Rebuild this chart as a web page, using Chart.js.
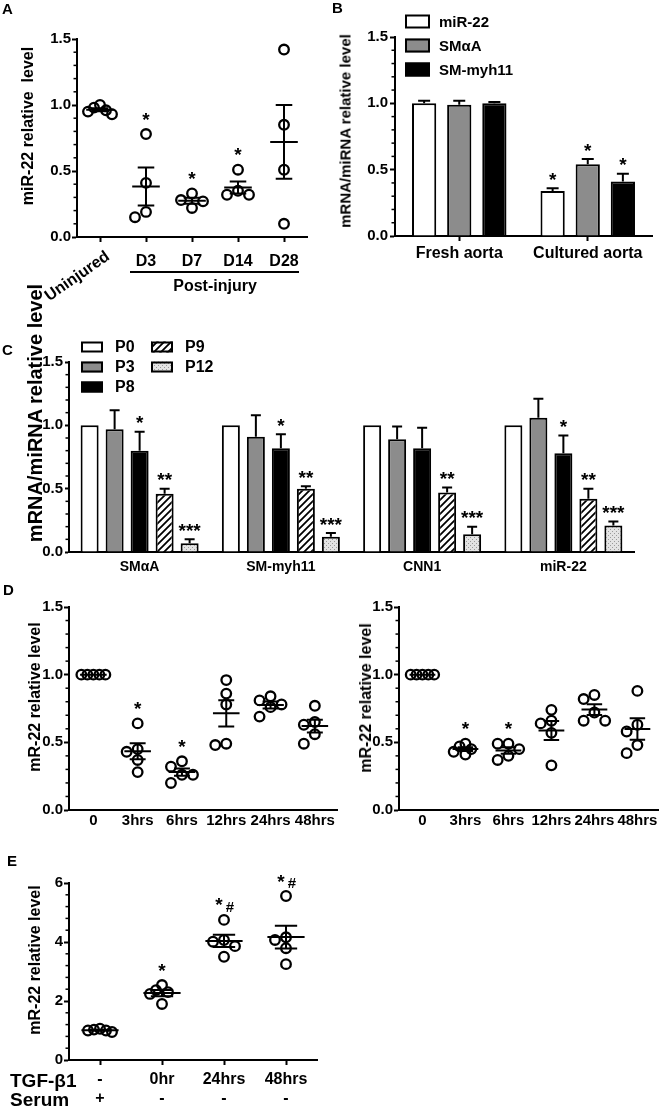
<!DOCTYPE html>
<html>
<head>
<meta charset="utf-8">
<script src="https://cdn.jsdelivr.net/npm/chart.js@4.4.1/dist/chart.umd.min.js"></script>
<style>
  body { margin: 0; width: 666px; height: 1106px; overflow: hidden; position: relative; background: #fff;
         font-family: "Liberation Sans", Arial, sans-serif; font-weight: bold; color: #000; }
  canvas { position: absolute; }
  .pl { position: absolute; font-size: 15px; line-height: 1; }
  .yt { position: absolute; white-space: nowrap; line-height: 1; transform: translate(-50%, -50%) rotate(-90deg); }
  .tx { position: absolute; white-space: nowrap; line-height: 1; transform: translateY(-50%); }
</style>
</head>
<body>
<canvas id="cA" width="333" height="310" style="left:0;top:0"></canvas>
<canvas id="cB" width="333" height="270" style="left:333px;top:0"></canvas>
<canvas id="cC" width="666" height="310" style="left:0;top:275px"></canvas>
<canvas id="cD1" width="345" height="250" style="left:0;top:585px"></canvas>
<canvas id="cD2" width="333" height="250" style="left:333px;top:585px"></canvas>
<canvas id="cE" width="340" height="266" style="left:0;top:840px"></canvas>

<div class="pl" style="left:2px;top:1px">A</div>
<div class="pl" style="left:332px;top:0">B</div>
<div class="pl" style="left:2px;top:342px">C</div>
<div class="pl" style="left:3px;top:582px">D</div>
<div class="pl" style="left:7px;top:853px">E</div>

<div class="yt" style="left:28px;top:126px;font-size:16px">miR-22 relative&nbsp; level</div>
<div class="yt" style="left:345px;top:131px;font-size:15px">mRNA/miRNA relative level</div>
<div class="yt" style="left:35px;top:413px;font-size:20px">mRNA/miRNA relative level</div>
<div class="yt" style="left:35px;top:697px;font-size:16px">mR-22 relative level</div>
<div class="yt" style="left:366px;top:698px;font-size:16px">mR-22 relative level</div>
<div class="yt" style="left:35px;top:960px;font-size:16px">mR-22 relative level</div>

<div class="tx" style="left:10px;top:1080px;font-size:19px">TGF-β1</div>
<div class="tx" style="left:10px;top:1099px;font-size:19px">Serum</div>

<script>
// ---- panel A : miR-22 after injury ----
const aCats = ['Uninjured', 'D3', 'D7', 'D14', 'D28'];
const aUninjured = [0.98, 0.93, 0.96, 1.00, 0.95];
const aD3 = [0.78, 0.41, 0.15, 0.19];
const aD7 = [0.33, 0.28, 0.27, 0.22];
const aD14 = [0.51, 0.35, 0.32, 0.32];
const aD28 = [1.42, 0.85, 0.51, 0.10];
const aStars = ['', '*', '*', '*', ''];

// ---- panel B : fresh vs cultured aorta ----
const bCats = ['Fresh aorta', 'Cultured aorta'];
const bLabels = ['miR-22', 'SMαA', 'SM-myh11'];
const bMiR22 = [1.00, 0.34];
const bMiR22Sem = [0.02, 0.02];
const bSma = [0.99, 0.54];
const bSmaSem = [0.03, 0.04];
const bMyh11 = [1.00, 0.41];
const bMyh11Sem = [0.01, 0.06];
const bStars = ['', '*'];

// ---- panel C : passages ----
const cCats = ['SMαA', 'SM-myh11', 'CNN1', 'miR-22'];
const cLabels = ['P0', 'P3', 'P8', 'P9', 'P12'];
const cP0 = [1.00, 1.00, 1.00, 1.00];
const cP0Sem = [0, 0, 0, 0];
const cP3 = [0.97, 0.91, 0.89, 1.06];
const cP3Sem = [0.15, 0.17, 0.10, 0.15];
const cP8 = [0.80, 0.82, 0.82, 0.78];
const cP8Sem = [0.15, 0.11, 0.16, 0.14];
const cP9 = [0.46, 0.50, 0.47, 0.42];
const cP9Sem = [0.04, 0.02, 0.04, 0.08];
const cP12 = [0.07, 0.12, 0.14, 0.21];
const cP12Sem = [0.03, 0.03, 0.06, 0.03];
const cP8Stars = ['*', '*', '', '*'];
const cP9Stars = ['**', '**', '**', '**'];
const cP12Stars = ['***', '***', '***', '***'];

// ---- panel D : time course ----
const dCats = ['0', '3hrs', '6hrs', '12hrs', '24hrs', '48hrs'];
const d1h0 = [1.00, 1.00, 1.00, 1.00, 1.00];
const d1h3 = [0.64, 0.45, 0.43, 0.37, 0.28];
const d1h6 = [0.36, 0.32, 0.26, 0.26, 0.20];
const d1h12 = [0.96, 0.86, 0.78, 0.49, 0.48];
const d1h24 = [0.84, 0.81, 0.78, 0.76, 0.69];
const d1h48 = [0.77, 0.65, 0.63, 0.56, 0.49];
const d1Stars = ['', '*', '*', '', '', ''];
const d2h0 = [1.00, 1.00, 1.00, 1.00, 1.00];
const d2h3 = [0.49, 0.47, 0.45, 0.43, 0.41];
const d2h6 = [0.49, 0.49, 0.45, 0.40, 0.37];
const d2h12 = [0.74, 0.66, 0.64, 0.57, 0.33];
const d2h24 = [0.85, 0.82, 0.72, 0.66, 0.66];
const d2h48 = [0.88, 0.63, 0.58, 0.48, 0.42];
const d2Stars = ['', '*', '*', '', '', ''];

// ---- panel E : TGF-b1 ----
const eTgf = ['-', '0hr', '24hrs', '48hrs'];
const eSerum = ['+', '-', '-', '-'];
const eSerumPlus = [1.03, 1.06, 0.95, 1.00, 1.00];
const e0hr = [2.54, 2.37, 2.30, 2.24, 1.90];
const e24hrs = [4.75, 4.07, 4.01, 3.86, 3.50];
const e48hrs = [5.56, 4.16, 4.07, 3.79, 3.25];
const eStars = ['', '*', '*#', '*#'];

const FONT = '"Liberation Sans", Arial, sans-serif';
Chart.defaults.font.family = FONT;
Chart.defaults.font.weight = 'bold';
Chart.defaults.color = '#000';
Chart.defaults.animation = false;
Chart.defaults.plugins.legend.display = false;
Chart.defaults.plugins.tooltip.enabled = false;

function drawStars(ctx, s, x, yc) {
  ctx.save();
  ctx.fillStyle = '#000';
  ctx.textAlign = 'center';
  ctx.textBaseline = 'alphabetic';
  ctx.font = `bold 19px ${FONT}`;
  if (s.includes('#')) {
    ctx.fillText(s.replace('#', ''), x - 5, yc + 10.6);
    ctx.font = `bold 15px ${FONT}`;
    ctx.fillText('#', x + 6, yc + 11);
  } else {
    ctx.fillText(s, x, yc + 10.6);
  }
  ctx.restore();
}

function minorTicks(step, major, len) {
  return {
    id: 'minorTicks',
    afterDraw(chart) {
      const y = chart.scales.y, ctx = chart.ctx, x0 = chart.chartArea.left;
      ctx.save();
      ctx.strokeStyle = '#000';
      ctx.lineWidth = 1.5;
      for (let k = 1; k * step < y.max - 1e-9; k++) {
        const v = k * step;
        if (Math.abs(v / major - Math.round(v / major)) < 1e-6) continue;
        const py = y.getPixelForValue(v);
        ctx.beginPath();
        ctx.moveTo(x0, py);
        ctx.lineTo(x0 - len, py);
        ctx.stroke();
      }
      ctx.restore();
    }
  };
}

// spread the dots of one group sideways so they do not overlap (pixels)
function swarm(vals, ppu, d, limit) {
  const order = vals.map((v, i) => i).sort((a, b) => vals[b] - vals[a]);
  const placed = [];
  const off = vals.map(() => 0);
  order.forEach(i => {
    const py = vals[i] * ppu;
    for (let k = 0; k < 20; k++) {
      const cand = k === 0 ? 0 : (k % 2 ? -1 : 1) * Math.ceil(k / 2) * d;
      if (placed.every(p => Math.hypot(p.x - cand, p.y - py) >= d * 0.95)) {
        off[i] = cand;
        placed.push({ x: cand, y: py });
        break;
      }
    }
  });
  const m = Math.max(...off.map(Math.abs));
  const s = m > limit ? limit / m : 1;
  return off.map(o => o * s);
}

function meanSem(groups, stars) {
  return {
    id: 'meanSem',
    afterDatasetsDraw(chart) {
      const { x, y } = chart.scales, ctx = chart.ctx;
      ctx.save();
      ctx.strokeStyle = '#000';
      ctx.lineWidth = 2;
      groups.forEach((vals, i) => {
        const n = vals.length;
        const m = vals.reduce((a, b) => a + b, 0) / n;
        const sd = Math.sqrt(vals.reduce((a, b) => a + (b - m) ** 2, 0) / (n - 1));
        const se = sd / Math.sqrt(n);
        const xc = x.getPixelForValue(i);
        const hw = x.getPixelForValue(i + 0.3) - xc;
        const cw = x.getPixelForValue(i + 0.18) - xc;
        const ym = y.getPixelForValue(m), yh = y.getPixelForValue(m + se), yl = y.getPixelForValue(m - se);
        ctx.beginPath();
        ctx.moveTo(xc - hw, ym); ctx.lineTo(xc + hw, ym);
        ctx.moveTo(xc, yh); ctx.lineTo(xc, yl);
        ctx.moveTo(xc - cw, yh); ctx.lineTo(xc + cw, yh);
        ctx.moveTo(xc - cw, yl); ctx.lineTo(xc + cw, yl);
        ctx.stroke();
        if (stars[i]) drawStars(ctx, stars[i], xc, y.getPixelForValue(Math.max(...vals)) - 19);
      });
      ctx.restore();
    }
  };
}

function errorBars(cap, gap) {
  return {
    id: 'errorBars',
    afterDatasetsDraw(chart) {
      const y = chart.scales.y, ctx = chart.ctx;
      ctx.save();
      ctx.strokeStyle = '#000';
      ctx.lineWidth = 2;
      chart.data.datasets.forEach((ds, d) => {
        chart.getDatasetMeta(d).data.forEach((bar, i) => {
          const v = ds.data[i], e = ds.sem[i];
          let top = y.getPixelForValue(v);
          if (e > 0) {
            top = y.getPixelForValue(v + e);
            ctx.beginPath();
            ctx.moveTo(bar.x, bar.y); ctx.lineTo(bar.x, top);
            ctx.moveTo(bar.x - cap, top); ctx.lineTo(bar.x + cap, top);
            ctx.stroke();
          }
          if (ds.stars[i]) drawStars(ctx, ds.stars[i], bar.x, top - gap);
        });
      });
      ctx.restore();
    }
  };
}

function boxLegend(L) {
  return {
    id: 'boxLegend',
    afterDraw(chart) {
      const ctx = chart.ctx;
      ctx.save();
      chart.data.datasets.forEach((ds, i) => {
        const bx = L.x + Math.floor(i / L.perCol) * L.colW;
        const by = L.y + (i % L.perCol) * L.rowH;
        ctx.fillStyle = ds.backgroundColor;
        ctx.fillRect(bx, by - L.bh / 2, L.bw, L.bh);
        ctx.strokeStyle = '#000';
        ctx.lineWidth = 2;
        ctx.strokeRect(bx + 1, by - L.bh / 2 + 1, L.bw - 2, L.bh - 2);
        ctx.fillStyle = '#000';
        ctx.font = `bold ${L.size}px ${FONT}`;
        ctx.textAlign = 'left';
        ctx.textBaseline = 'middle';
        ctx.fillText(ds.label, bx + L.bw + L.gap, by + 1);
      });
      ctx.restore();
    }
  };
}

function hatch() {
  const c = document.createElement('canvas');
  c.width = 7; c.height = 7;
  const g = c.getContext('2d');
  g.fillStyle = '#fff';
  g.fillRect(0, 0, 7, 7);
  g.strokeStyle = '#000';
  g.lineWidth = 1.8;
  g.beginPath();
  g.moveTo(-1, 8); g.lineTo(8, -1);
  g.moveTo(-2, 2); g.lineTo(2, -2);
  g.moveTo(5, 9); g.lineTo(9, 5);
  g.stroke();
  return g.createPattern(c, 'repeat');
}

function dots() {
  const c = document.createElement('canvas');
  c.width = 4; c.height = 4;
  const g = c.getContext('2d');
  g.fillStyle = '#e4e4e4';
  g.fillRect(0, 0, 4, 4);
  g.fillStyle = '#9a9a9a';
  g.fillRect(0, 0, 1, 1);
  g.fillRect(2, 2, 1, 1);
  return g.createPattern(c, 'repeat');
}

function yAxis(o) {
  return {
    min: 0, max: o.yMax,
    afterFit: s => { s.width = o.area.l; },
    ticks: { stepSize: o.yStep, callback: v => o.yFmt(v), font: { size: 15 }, padding: o.yPad },
    grid: { drawOnChartArea: false, tickLength: o.yTick, tickWidth: 2, tickColor: '#000' },
    border: { width: 2, color: '#000' }
  };
}

function scatterPanel(id, cats, groups, stars, o) {
  const A = o.area;
  const ppuY = (A.b - A.t) / o.yMax;
  const ppuX = (A.r - A.l) / (o.xMax - o.xMin);
  const pts = [];
  groups.forEach((vals, i) => {
    const off = swarm(vals, ppuY, 11, 12);
    vals.forEach((v, j) => pts.push({ x: i + off[j] / ppuX, y: v }));
  });
  return new Chart(document.getElementById(id), {
    type: 'scatter',
    data: {
      datasets: [{
        data: pts, pointRadius: 4.8, pointBorderWidth: 2.3, pointBorderColor: '#000',
        pointBackgroundColor: 'rgba(0,0,0,0)', clip: false
      }]
    },
    options: {
      responsive: false,
      layout: { padding: { left: 0, top: A.t, right: o.w - A.r, bottom: 0 } },
      scales: {
        x: {
          type: 'linear', min: o.xMin, max: o.xMax,
          afterBuildTicks: s => { s.ticks = cats.map((c, i) => ({ value: i })); },
          afterFit: s => { s.height = o.h - A.b; },
          ticks: {
            callback: (v, i) => (o.hideFirst && i === 0 ? '' : cats[i]),
            font: { size: o.xFont, lineHeight: o.xLine }, padding: o.xPad, maxRotation: 0, autoSkip: false
          },
          grid: { drawOnChartArea: false, drawTicks: o.xTicks, tickLength: 5, tickWidth: 2, tickColor: '#000' },
          border: { width: 2, color: '#000' }
        },
        y: yAxis(o)
      }
    },
    plugins: [minorTicks(o.yMinor, o.yStep, 3.5), meanSem(groups, stars)].concat(o.extra || [])
  });
}

function barPanel(id, cats, sets, o) {
  const A = o.area;
  return new Chart(document.getElementById(id), {
    type: 'bar',
    data: {
      labels: cats,
      datasets: sets.map(s => ({
        label: s.label, data: s.data, sem: s.sem, stars: s.stars,
        backgroundColor: s.fill, borderColor: '#000', borderWidth: 2,
        categoryPercentage: o.catPct, barPercentage: o.barPct
      }))
    },
    options: {
      responsive: false,
      layout: { padding: { left: 0, top: A.t, right: o.w - A.r, bottom: 0 } },
      scales: {
        x: {
          afterFit: s => { s.height = o.h - A.b; },
          ticks: { font: { size: o.xFont }, padding: o.xPad, maxRotation: 0, autoSkip: false },
          grid: { drawOnChartArea: false, offset: false, drawTicks: o.xTicks, tickLength: 5, tickWidth: 2, tickColor: '#000' },
          border: { width: 2, color: '#000' }
        },
        y: yAxis(o)
      }
    },
    plugins: [minorTicks(0.1, 0.5, 3.5), errorBars(o.cap, o.starGap), boxLegend(o.legend)]
  });
}

const fmt1 = v => v.toFixed(1);

// A: extra labels below the axis
const aExtra = {
  id: 'aExtra',
  afterDraw(chart) {
    const x = chart.scales.x, ctx = chart.ctx, b = chart.chartArea.bottom;
    ctx.save();
    ctx.fillStyle = '#000';
    ctx.font = `bold 16px ${FONT}`;
    ctx.translate(x.getPixelForValue(0) + 8, b + 18);
    ctx.rotate(-35 * Math.PI / 180);
    ctx.textAlign = 'right';
    ctx.textBaseline = 'middle';
    ctx.fillText(aCats[0], 0, 0);
    ctx.restore();

    ctx.save();
    const yl = b + 35;
    ctx.strokeStyle = '#000';
    ctx.lineWidth = 2;
    ctx.beginPath();
    ctx.moveTo(x.getPixelForValue(1) - 16, yl);
    ctx.lineTo(x.getPixelForValue(4) + 15, yl);
    ctx.stroke();
    ctx.fillStyle = '#000';
    ctx.font = `bold 16px ${FONT}`;
    ctx.textAlign = 'center';
    ctx.textBaseline = 'middle';
    ctx.fillText('Post-injury', (x.getPixelForValue(1) + x.getPixelForValue(4)) / 2, yl + 15);
    ctx.restore();
  }
};

scatterPanel('cA', aCats, [aUninjured, aD3, aD7, aD14, aD28], aStars, {
  w: 333, h: 310, area: { l: 77, t: 39, r: 307, b: 237 },
  xMin: -0.5, xMax: 4.5, yMax: 1.5, yStep: 0.5, yMinor: 0.1, yFmt: fmt1, yPad: 1, yTick: 5,
  xFont: 16, xLine: 1.2, xPad: 10, xTicks: true, hideFirst: true, extra: [aExtra]
});

barPanel('cB', bCats, [
  { label: bLabels[0], data: bMiR22, sem: bMiR22Sem, stars: bStars, fill: '#ffffff' },
  { label: bLabels[1], data: bSma, sem: bSmaSem, stars: bStars, fill: '#8c8c8c' },
  { label: bLabels[2], data: bMyh11, sem: bMyh11Sem, stars: bStars, fill: '#000000' }
], {
  w: 333, h: 270, area: { l: 62, t: 37, r: 319, b: 236 },
  yMax: 1.5, yStep: 0.5, yFmt: fmt1, yPad: 2, yTick: 5,
  xFont: 16, xPad: 3, xTicks: true, catPct: 0.82, barPct: 0.69, cap: 6, starGap: 13,
  legend: { x: 72, y: 21.5, rowH: 24, colW: 0, perCol: 3, bw: 25, bh: 14, gap: 9, size: 15 }
});

barPanel('cC', cCats, [
  { label: cLabels[0], data: cP0, sem: cP0Sem, stars: ['', '', '', ''], fill: '#ffffff' },
  { label: cLabels[1], data: cP3, sem: cP3Sem, stars: ['', '', '', ''], fill: '#8c8c8c' },
  { label: cLabels[2], data: cP8, sem: cP8Sem, stars: cP8Stars, fill: '#000000' },
  { label: cLabels[3], data: cP9, sem: cP9Sem, stars: cP9Stars, fill: hatch() },
  { label: cLabels[4], data: cP12, sem: cP12Sem, stars: cP12Stars, fill: dots() }
], {
  w: 666, h: 310, area: { l: 69, t: 87, r: 634, b: 277 },
  yMax: 1.5, yStep: 0.5, yFmt: fmt1, yPad: 2, yTick: 4,
  xFont: 14, xPad: 7, xTicks: false, catPct: 0.885, barPct: 0.72, cap: 5, starGap: 13,
  legend: { x: 81, y: 72, rowH: 20, colW: 70, perCol: 3, bw: 22, bh: 11, gap: 12, size: 16 }
});

scatterPanel('cD1', dCats, [d1h0, d1h3, d1h6, d1h12, d1h24, d1h48], d1Stars, {
  w: 345, h: 250, area: { l: 69, t: 22, r: 337, b: 225 },
  xMin: -0.55, xMax: 5.5, yMax: 1.5, yStep: 0.5, yMinor: 0.1, yFmt: fmt1, yPad: 1, yTick: 5,
  xFont: 15, xLine: 1.2, xPad: 2, xTicks: false
});

scatterPanel('cD2', dCats, [d2h0, d2h3, d2h6, d2h12, d2h24, d2h48], d2Stars, {
  w: 333, h: 250, area: { l: 66, t: 22, r: 332, b: 225 },
  xMin: -0.545, xMax: 5.5, yMax: 1.5, yStep: 0.5, yMinor: 0.1, yFmt: fmt1, yPad: 1, yTick: 5,
  xFont: 15, xLine: 1.2, xPad: 2, xTicks: false
});

scatterPanel('cE', eTgf.map((t, i) => [t, eSerum[i]]), [eSerumPlus, e0hr, e24hrs, e48hrs], eStars, {
  w: 340, h: 266, area: { l: 69, t: 43, r: 317, b: 220 },
  xMin: -0.5, xMax: 3.5, yMax: 6, yStep: 2, yMinor: 0.4, yFmt: v => String(v), yPad: 1, yTick: 5,
  xFont: 16, xLine: 1.19, xPad: 5, xTicks: true
});
</script>
</body>
</html>
